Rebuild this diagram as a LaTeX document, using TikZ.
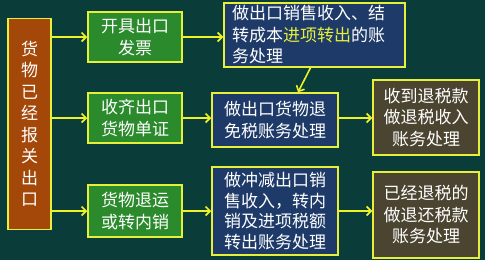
\documentclass[tikz,border=0pt]{standalone}
\usepackage{fontspec}
\setmainfont{Noto Sans CJK SC}
\usetikzlibrary{arrows.meta,positioning,calc}
\usepackage{xcolor}
\definecolor{exTeal}{HTML}{0A3C3A}
\definecolor{exBrown}{HTML}{A4480A}
\definecolor{exGreen}{HTML}{2A8A2C}
\definecolor{exNavy}{HTML}{1E3A68}
\definecolor{exOlive}{HTML}{4A4430}
\definecolor{exYellow}{HTML}{E6F03A}
\definecolor{exArrow}{HTML}{EEF028}

\begin{document}
\begin{tikzpicture}[x=1pt, y=-1pt,
  card/.style={draw=exYellow, line width=1.5pt, text=white, align=center, inner sep=0pt,
    font=\fontsize{17}{21.5}\selectfont},
  stage/.style={card, fill=exGreen, minimum width=94pt},
  entry/.style={card, fill=exNavy, minimum width=126pt},
  refund/.style={card, fill=exOlive, minimum width=106pt},
  flow/.style={-{Straight Barb[length=4.5pt, width=9pt, line width=1.6pt]}, line width=1.6pt, exArrow}]
\fill[exTeal] (0,0) rectangle (485,260);
\useasboundingbox (0,0) rectangle (485,260);

\node[card, fill=exBrown, minimum width=43pt, minimum height=211pt] (goods) at (29.5,124)
  {货\\物\\已\\经\\报\\关\\出\\口};

\node[stage, minimum height=50pt] (invoice) at (135,37) {开具出口\\发票};
\node[stage, minimum height=50pt] (docs) at (135,118) {收齐出口\\货物单证};
\node[stage, minimum height=52pt] (returned) at (135,211) {货物退运\\或转内销};

\node[card, fill=exNavy, minimum height=64pt, text width=165pt, inner xsep=8pt, align=left] (sales) at (314.5,35)
  {做出口销售收入、结\\转成本\textcolor{exYellow}{进项转出}的账\\务处理};
\node[entry, minimum height=54pt] (exempt) at (275,120) {做出口货物退\\免税账务处理};
\node[entry, minimum height=88pt, font=\fontsize{17}{20.5}\selectfont] (offset) at (275,211)
  {做冲减出口销\\售收入，转内\\销及进项税额\\转出账务处理};

\node[refund, minimum height=75pt] (received) at (426,117.5) {收到退税款\\做退税收入\\账务处理};
\node[refund, minimum height=86pt] (repay) at (426,215) {已经退税的\\做退还税款\\账务处理};

\draw[flow] (goods.east |- invoice.west) -- (invoice.west);
\draw[flow] (goods.east |- docs.west) -- (docs.west);
\draw[flow] (goods.east |- returned.west) -- (returned.west);
\draw[flow] (invoice.east) -- (sales.west |- invoice.east);
\draw[flow] (docs.east) -- (exempt.west |- docs.east);
\draw[flow] (returned.east) -- (offset.west |- returned.east);
\draw[flow] ([xshift=-4pt]sales.south) -- ([xshift=23pt]exempt.north);
\draw[flow] (exempt.east |- docs.east) -- (received.west |- docs.east);
\draw[flow] (offset.east) -- (repay.west |- offset.east);
\end{tikzpicture}
\end{document}
